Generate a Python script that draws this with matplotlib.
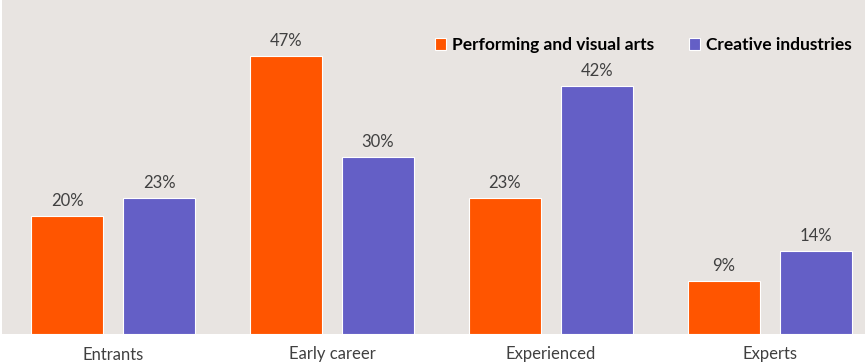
import matplotlib.pyplot as plt
import numpy as np

plt.rcParams['font.family'] = ['Lato', 'DejaVu Sans']

categories = ['Entrants', 'Early career', 'Experienced', 'Experts']
performing = [20, 47, 23, 9]
creative = [23, 30, 42, 14]
series_names = ['Performing and visual arts', 'Creative industries']

orange = '#FF5500'
purple = '#645FC6'
bg = '#E8E4E1'
text_grey = '#404040'

fig = plt.figure(figsize=(8.65, 3.62), dpi=100)
ax = fig.add_axes([2 / 865, 28 / 362, 863 / 865, 334 / 362])
ax.set_facecolor(bg)

x = np.arange(len(categories))
w = 0.329
off = 0.21
b1 = ax.bar(x - off, performing, w, color=orange, edgecolor='white', linewidth=0.8,
            label=series_names[0])
b2 = ax.bar(x + off, creative, w, color=purple, edgecolor='white', linewidth=0.8,
            label=series_names[1])

for bars, vals in ((b1, performing), (b2, creative)):
    for bar, v in zip(bars, vals):
        ax.text(bar.get_x() + bar.get_width() / 2, v + 1.2, f'{v}%',
                ha='center', va='bottom', fontsize=12, color=text_grey)

ax.set_xlim(-0.507, 3.434)
ax.set_ylim(0, 56.5)
ax.set_yticks([])
ax.set_xticks(x)
ax.set_xticklabels(categories, fontsize=12, color=text_grey)
ax.tick_params(axis='x', length=0, pad=9)
for s in ax.spines.values():
    s.set_visible(False)

leg = ax.legend(loc='upper right', bbox_to_anchor=(1.003, 0.935), ncol=2, frameon=False,
                handlelength=0.65, handleheight=0.65, handletextpad=0.35, columnspacing=2.0,
                prop={'weight': 'bold', 'size': 12.5})

fig.savefig('out.png', dpi=100)
